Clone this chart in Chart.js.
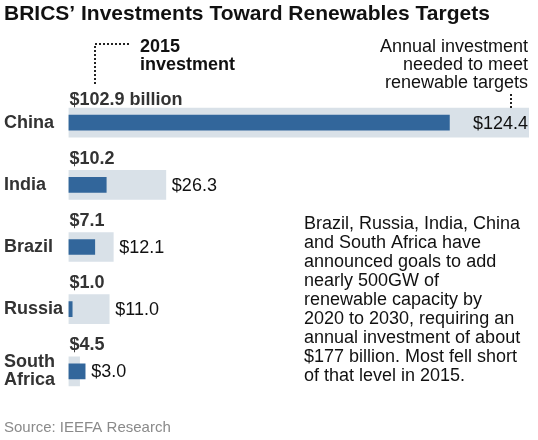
<!DOCTYPE html>
<html>
<head>
<meta charset="utf-8">
<script src="https://cdn.jsdelivr.net/npm/chart.js@4/dist/chart.umd.min.js"></script>
<style>
  body { margin: 0; background: #fff; }
  #wrap { width: 538px; height: 440px; position: relative; }
</style>
</head>
<body>
<div id="wrap"><canvas id="bricsChart"></canvas></div>
<script>
// Chart data
const countries = ['China', 'India', 'Brazil', 'Russia', ['South', 'Africa']];
const invest2015 = [102.9, 10.2, 7.1, 1.0, 4.5];
const investNeeded = [124.4, 26.3, 12.1, 11.0, 3.0];

const FONT = '"Liberation Sans", Arial, sans-serif';
const DARK = '#32669b';
const LIGHT = '#d9e1e8';

// Draws title, notes and value labels around the bars
const labelPlugin = {
    id: 'labelPlugin',
    afterDatasetsDraw(chart) {
        const ctx = chart.ctx;
        const metaDark = chart.getDatasetMeta(1);
        const metaLight = chart.getDatasetMeta(0);
        ctx.save();

        // 2015 values above each bar
        ctx.font = 'bold 18px ' + FONT;
        ctx.fillStyle = '#333';
        ctx.textAlign = 'left';
        ctx.textBaseline = 'alphabetic';
        invest2015.forEach((v, i) => {
            const bar = metaDark.data[i];
            const txt = '$' + v.toFixed(1) + (i === 0 ? ' billion' : '');
            const off = i === 0 ? 18 : 21;
            ctx.fillText(txt, chart.chartArea.left + 1, bar.y - off);
        });

        // needed values to the right of light bars
        ctx.font = '18px ' + FONT;
        ctx.fillStyle = '#111';
        ctx.textBaseline = 'middle';
        investNeeded.forEach((v, i) => {
            const bar = metaLight.data[i];
            const txt = '$' + v.toFixed(1);
            if (i === 0) {
                ctx.textAlign = 'right';
                ctx.fillText(txt, bar.x - 1, bar.y + 1);
            } else {
                ctx.textAlign = 'left';
                const end = Math.max(bar.x, metaDark.data[i].x);
                ctx.fillText(txt, end + 6, bar.y + 1);
            }
        });
        ctx.restore();
    },
    afterDraw(chart) {
        const ctx = chart.ctx;
        ctx.save();
        ctx.fillStyle = '#111';
        ctx.textAlign = 'left';
        ctx.textBaseline = 'alphabetic';

        // title
        ctx.font = 'bold 21px ' + FONT;
        ctx.fillText('BRICS\u2019 Investments Toward Renewables Targets', 4, 20);

        // 2015 investment note
        ctx.font = 'bold 18px ' + FONT;
        ctx.fillText('2015', 140, 52);
        ctx.fillText('investment', 140, 70);

        // annual investment note
        ctx.font = '18px ' + FONT;
        ctx.textAlign = 'right';
        ctx.fillText('Annual investment', 528, 52);
        ctx.fillText('needed to meet', 528, 70);
        ctx.fillText('renewable targets', 528, 88);

        // dotted leaders
        ctx.strokeStyle = '#222';
        ctx.lineWidth = 2;
        ctx.setLineDash([2, 2]);
        ctx.beginPath();
        ctx.moveTo(129, 44);
        ctx.lineTo(95, 44);
        ctx.lineTo(95, 84);
        ctx.moveTo(511, 94);
        ctx.lineTo(511, 108);
        ctx.stroke();
        ctx.setLineDash([]);

        // paragraph
        const para = [
            'Brazil, Russia, India, China',
            'and South Africa have',
            'announced goals to add',
            'nearly 500GW of',
            'renewable capacity by',
            '2020 to 2030, requiring an',
            'annual investment of about',
            '$177 billion. Most fell short',
            'of that level in 2015.'
        ];
        ctx.font = '18px ' + FONT;
        ctx.textAlign = 'left';
        para.forEach((line, i) => ctx.fillText(line, 304, 229 + i * 19));

        // source
        ctx.font = '15px ' + FONT;
        ctx.fillStyle = '#8a8a8a';
        ctx.fillText('Source: IEEFA Research', 4, 432);
        ctx.restore();
    }
};

const ctx = document.getElementById('bricsChart').getContext('2d');
new Chart(ctx, {
    type: 'bar',
    data: {
        labels: countries,
        datasets: [{
            label: 'Annual investment needed',
            data: investNeeded,
            backgroundColor: LIGHT,
            barThickness: 29,
            grouped: false,
            order: 2
        }, {
            label: '2015 investment',
            data: invest2015,
            backgroundColor: DARK,
            barThickness: 15,
            grouped: false,
            order: 1
        }]
    },
    options: {
        indexAxis: 'y',
        responsive: true,
        maintainAspectRatio: false,
        animation: false,
        layout: {
            padding: { left: 4, right: 9, top: 91.5, bottom: 37.5 }
        },
        scales: {
            x: { display: false, min: 0, max: 124.4 },
            y: {
                grid: { display: false },
                border: { display: false },
                afterFit: (axis) => { axis.width = 64.5; },
                ticks: {
                    crossAlign: 'far',
                    padding: 0,
                    color: '#333',
                    font: { family: FONT, size: 18, weight: 'bold', lineHeight: 1.0 }
                }
            }
        },
        plugins: {
            legend: { display: false },
            tooltip: { enabled: false }
        }
    },
    plugins: [labelPlugin]
});
</script>
</body>
</html>
